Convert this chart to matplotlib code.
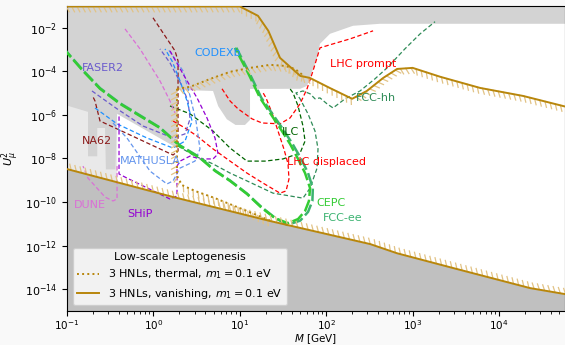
import numpy as np
import matplotlib
matplotlib.use("Agg")
import matplotlib.pyplot as plt
import matplotlib.patheffects as pe
from matplotlib.lines import Line2D

# All curves are stored as log10(M / GeV) and log10(U_mu^2)

# Excluded parameter space (past experiments)
excl_lm = [-1.1, 4.8, 4.8, 2.623, 2.31, 2.044, 1.928, 1.894, 1.778, 1.70, 1.118, 1.118, 1.06, 0.95, 0.85,
           0.75, 0.69, 0.28, 0.273, -0.421, -0.44, -0.55, -0.56, -0.65, -0.65, -0.757, -0.757, -1.1]
excl_lu = [-0.9, -0.9, -1.816, -1.816, -1.908, -2.276, -2.736, -3.379, -4.667, -4.80, -4.805, -6.23, -6.46,
           -6.46, -6.2, -5.6, -4.9, -4.85, -7.52, -5.95, -8.5, -8.5, -6.6, -6.6, -7.9, -7.9, -5.86, -5.45]
bbn_lm = [-1.1, -0.42, -0.42, -1.1]
bbn_lu = [-5.45, -5.9, -9.4, -8.3]

# Leptogenesis, vanishing initial abundance (upper and lower boundary)
van_up_lm = [-1.1, 1.00, 1.21, 1.33, 1.465, 1.70, 1.81, 2.04, 2.30, 2.47, 2.66, 2.82, 3.00, 3.32, 3.78, 4.28, 4.80]
van_up_lu = [-1.02, -1.02, -1.45, -2.14, -3.38, -4.21, -4.30, -4.76, -5.26, -4.90, -4.30, -3.89, -3.84,
             -4.25, -4.76, -5.13, -5.65]
van_lo_lm = [4.80, 4.36, 3.47, 2.82, 2.51, 1.35, 0.23, -1.1]
van_lo_lu = [-14.25, -13.95, -13.03, -12.35, -11.93, -10.87, -9.77, -8.38]

# Leptogenesis, thermal initial abundance
th_up_lm = [0.273, 0.424, 0.655, 0.887, 1.118, 1.35, 1.523, 1.639, 1.75]
th_up_lu = [-4.80, -4.71, -4.35, -4.02, -3.84, -3.70, -3.75, -3.89, -4.24]
th_lo_lm = [0.273, 0.273, 0.331, 0.481, 0.713, 1.002, 1.35]
th_lo_lu = [-4.80, -8.80, -9.22, -9.49, -9.82, -10.28, -10.85]

# Future sensitivities
cepc_lm = [-1.05, -0.815, -0.618, -0.387, -0.155, 0.076, 0.308, 0.539, 0.713, 0.887, 1.083, 1.257, 1.407,
           1.558, 1.674, 1.755, 1.80, 1.813, 1.755, 1.674, 1.581, 1.465, 1.35, 1.234, 1.095, 0.944]
cepc_lu = [-2.92, -3.98, -4.80, -5.49, -6.05, -6.60, -7.43, -7.98, -8.57, -9.03, -9.63, -10.28, -10.74,
           -10.97, -10.78, -10.41, -9.95, -9.36, -8.67, -8.02, -7.33, -6.60, -5.91, -5.22, -4.07, -2.92]
fccee_lm = [-1.05, -0.815, -0.618, -0.387, -0.155, 0.076, 0.308, 0.539, 0.713, 0.887, 1.083, 1.257, 1.407,
            1.55, 1.70, 1.79, 1.84, 1.845, 1.79, 1.71, 1.61, 1.49, 1.37, 1.25, 1.11, 0.96]
fccee_lu = [-2.89, -3.95, -4.77, -5.46, -6.02, -6.58, -7.40, -7.95, -8.55, -9.01, -9.61, -10.25, -10.72,
            -11.05, -10.85, -10.45, -9.95, -9.36, -8.67, -8.02, -7.33, -6.60, -5.91, -5.22, -4.07, -2.92]
ilc_lm = [0.192, 0.424, 0.690, 0.887, 1.083, 1.292, 1.500, 1.697, 1.755, 1.731, 1.674, 1.616, 1.581]
ilc_lu = [-5.59, -5.95, -6.74, -7.52, -8.12, -8.12, -8.02, -7.75, -7.20, -6.51, -5.59, -4.99, -4.80]
fcchh_lm = [0.285, 0.481, 0.690, 0.887, 1.083, 1.384, 1.581, 1.731, 1.813, 1.894, 1.905, 1.870, 1.789,
            1.697, 1.65, 1.731, 1.813, 1.870, 1.928, 2.009, 2.079, 2.218, 2.391, 2.565, 2.704, 2.91, 3.086,
            3.259]
fcchh_lu = [-7.43, -7.89, -8.25, -8.67, -9.03, -9.59, -9.72, -9.82, -9.36, -8.44, -7.56, -6.74, -5.95,
            -5.26, -4.99, -4.90, -5.03, -5.26, -5.22, -5.49, -5.68, -5.26, -4.90, -4.34, -3.84, -2.97, -2.28,
            -1.72]
lhcp_lm = [0.794, 0.887, 0.979, 1.141, 1.257, 1.465, 1.581, 1.697, 1.778, 1.847, 1.928, 2.044, 2.275, 2.542]
lhcp_lu = [-4.80, -5.36, -5.72, -6.18, -6.37, -6.41, -6.14, -5.49, -4.80, -3.98, -2.92, -2.78, -2.51, -2.14]
lhcd_lm = [0.227, 0.366, 0.505, 0.690, 0.887, 1.083, 1.269, 1.465, 1.535, 1.569, 1.558, 1.51, 1.442,
           1.373, 1.303, 1.257]
lhcd_lu = [-6.28, -6.60, -6.97, -7.56, -8.12, -8.67, -9.13, -9.59, -9.49, -8.94, -8.25, -7.56, -6.74,
           -5.91, -5.22, -4.90]
na62_lm = [-0.005, 0.134, 0.25, 0.285, 0.285, 0.285, 0.227, -0.421, -0.618, -0.676, -0.699]
na62_lu = [-1.54, -2.37, -3.06, -3.52, -4.76, -7.66, -7.84, -6.64, -6.28, -5.36, -5.17]
faser_lm = [-0.711, -0.421, -0.120, 0.227, 0.366, 0.424, 0.400, 0.331, 0.192, 0.076]
faser_lu = [-4.90, -5.72, -6.51, -7.06, -6.87, -6.18, -5.36, -4.67, -3.61, -2.97]
codex_lm = [-0.676, -0.421, -0.074, 0.227, 0.366, 0.447, 0.389, 0.308, 0.215, 0.134]
codex_lu = [-5.68, -6.41, -7.06, -7.52, -7.20, -6.28, -5.36, -4.44, -3.52, -2.97]
mathusla_lm = [-0.468, -0.306, -0.039, 0.157, 0.227, 0.308, 0.481, 0.539, 0.493, 0.424, 0.343, 0.169]
mathusla_lu = [-6.37, -7.06, -8.58, -9.17, -9.03, -8.44, -8.12, -7.56, -6.28, -5.13, -3.98, -2.97]
dune_lm = [-0.329, -0.155, 0.076, 0.192, 0.25, np.nan, -0.421, -0.421, -0.468, -0.56, -0.757, -0.815]
dune_lu = [-2.05, -2.97, -4.44, -5.36, -5.91, np.nan, -8.35, -9.86, -9.95, -9.77, -8.90, -8.35]
ship_lm = [0.192, 0.343, 0.505, 0.620, 0.713, 0.748, 0.690, 0.539, 0.424, 0.308, 0.273, 0.273, 0.192,
           -0.306, -0.398, -0.398]
ship_lu = [-3.06, -4.12, -5.22, -6.14, -7.06, -7.79, -8.02, -8.02, -7.89, -8.12, -8.35, -9.72, -9.86,
           -8.90, -8.71, -5.95]


def pts(lm, lu):
    return 10.0 ** np.asarray(lm, float), 10.0 ** np.asarray(lu, float)


plt.rcParams['font.size'] = 8
fig = plt.figure(figsize=(5.65, 3.45), dpi=100, facecolor='#f9f9f9')
ax = fig.add_axes([0.1186, 0.0986, 0.8814, 0.884])
ax.set_xscale('log')
ax.set_yscale('log')
ax.set_xlim(0.1, 5.8e4)
ax.set_ylim(1e-15, 1e-1)

# shaded regions
ax.fill(*pts(bbn_lm, bbn_lu), color='#e9e9e9', lw=0, zorder=0.4)
ax.fill(*pts(excl_lm, excl_lu), color='#d3d3d3', lw=0, zorder=0.5)
xs, ys = pts(van_lo_lm, van_lo_lu)
ax.fill_between(xs, ys, 1e-16, color='#c0c0c0', lw=0, zorder=0.7)

gold = '#b8860b'
hatch_col = '#e2c386'


def hatched(lm, lu, ls):
    x, y = pts(lm, lu)
    ax.plot(x, y, color=hatch_col, lw=0.9, zorder=3.5,
            path_effects=[pe.TickedStroke(spacing=3.8, angle=-62, length=1.15)])
    ax.plot(x, y, color=gold, lw=1.4, ls=ls, zorder=4)


hatched(van_up_lm, van_up_lu, '-')
hatched(van_lo_lm, van_lo_lu, '-')
hatched(th_up_lm, th_up_lu, ':')
hatched(th_lo_lm, th_lo_lu, ':')

thin = dict(lw=0.9, ls=(0, (3.5, 2)), zorder=3)
ax.plot(*pts(cepc_lm, cepc_lu), color='#33cc33', lw=1.8, ls=(0, (5, 1.5)), zorder=3.2)
ax.plot(*pts(fccee_lm, fccee_lu), color='#3cb371', lw=1.8, ls=(0, (5, 1.5)), zorder=3.1)
ax.plot(*pts(ilc_lm, ilc_lu), color='darkgreen', **thin)
ax.plot(*pts(fcchh_lm, fcchh_lu), color='seagreen', **thin)
ax.plot(*pts(lhcp_lm, lhcp_lu), color='red', **thin)
ax.plot(*pts(lhcd_lm, lhcd_lu), color='red', **thin)
ax.plot(*pts(na62_lm, na62_lu), color='#8b1a1a', **thin)
ax.plot(*pts(faser_lm, faser_lu), color='slateblue', **thin)
ax.plot(*pts(codex_lm, codex_lu), color='dodgerblue', **thin)
ax.plot(*pts(mathusla_lm, mathusla_lu), color='cornflowerblue', **thin)
ax.plot(*pts(dune_lm, dune_lu), color='orchid', **thin)
ax.plot(*pts(ship_lm, ship_lu), color='darkviolet', **thin)

# experiment labels
labels = [
    ('FASER2', 0.261, 1.45e-4, 'slateblue'),
    ('CODEXb', 5.6, 7.1e-4, 'dodgerblue'),
    ('NA62', 0.222, 6.4e-8, '#8b1a1a'),
    ('MATHUSLA', 0.914, 7.7e-9, 'cornflowerblue'),
    ('DUNE', 0.185, 7.2e-11, 'orchid'),
    ('SHiP', 0.70, 2.8e-11, 'darkviolet'),
    ('ILC', 38.1, 1.66e-7, 'darkgreen'),
    ('LHC displaced', 102, 6.9e-9, 'red'),
    ('LHC prompt', 267, 2.2e-4, 'red'),
    ('FCC-hh', 377, 6.05e-6, 'seagreen'),
    ('CEPC', 114, 8.9e-11, '#33cc33'),
    ('FCC-ee', 156, 1.83e-11, '#3cb371'),
]
for txt, x, y, c in labels:
    ax.text(x, y, txt, color=c, ha='center', va='center', fontsize=8, zorder=5)

ax.set_yticks([1e-14, 1e-12, 1e-10, 1e-8, 1e-6, 1e-4, 1e-2])
ax.yaxis.set_minor_locator(matplotlib.ticker.NullLocator())
ax.xaxis.set_minor_locator(matplotlib.ticker.LogLocator(base=10, subs=np.arange(2, 10)))
ax.tick_params(axis='x', pad=1.5, labelsize=7.5)
ax.set_xlabel('$M$ [GeV]', fontsize=7.5)
ax.xaxis.set_label_coords(0.5, -0.071)
ax.set_ylabel('$U_\\mu^2$', labelpad=2)

handles = [Line2D([], [], color=gold, ls=':', lw=1.4), Line2D([], [], color=gold, ls='-', lw=1.4)]
ax.legend(handles, ['3 HNLs, thermal, $m_1 = 0.1$ eV', '3 HNLs, vanishing, $m_1 = 0.1$ eV'],
          title='Low-scale Leptogenesis', loc='lower left', bbox_to_anchor=(0.0, 0.0),
          fontsize=8, title_fontsize=8, framealpha=0.8).set_zorder(6)

fig.savefig('out.png', dpi=100, facecolor=fig.get_facecolor())
